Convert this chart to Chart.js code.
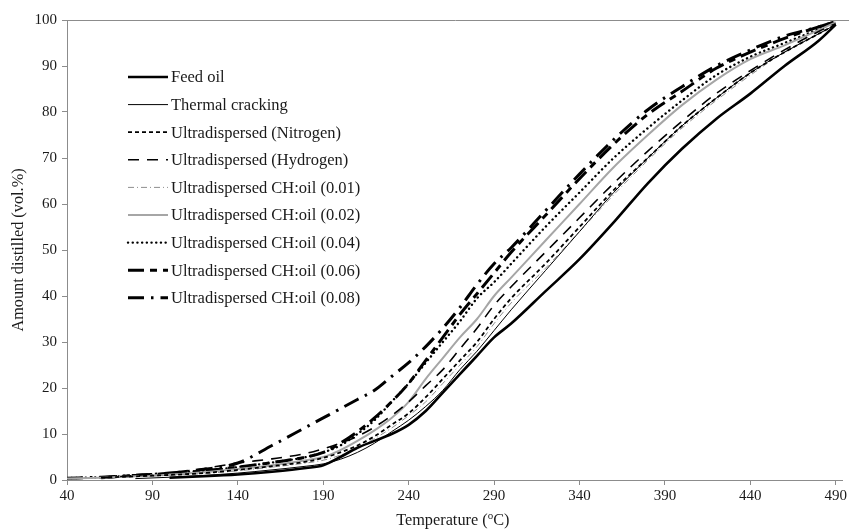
<!DOCTYPE html>
<html>
<head>
<meta charset="utf-8">
<title>Amount distilled vs temperature</title>
<script src="https://cdn.jsdelivr.net/npm/chart.js@4.4.1/dist/chart.umd.min.js"></script>
<style>
    html, body { margin: 0; padding: 0; background: #ffffff; }
    #wrap { width: 849px; height: 530px; position: relative; }
</style>
</head>
<body>
<div id="wrap"><canvas id="distChart" width="849" height="530"></canvas></div>
<script>
/* ===================================================
   Distillation curves — data
   =================================================== */

// --- Temperatures (°C) shared by every series ---
const temperatures = [40, 60, 80, 100, 120, 140, 160, 180, 190, 200, 210, 220, 230, 240, 250,
                      260, 270, 280, 290, 300, 320, 340, 360, 380, 400, 420, 440, 460, 480, 490];

// --- Amount distilled (vol.%) per sample, null where the curve has not started ---
const feedOil     = [null, null, null, 0.5, 0.8, 1.2, 1.8, 2.6, 3.2, 5.0, 7.0, 8.5, 10.0, 12.0, 15.0,
                     19.0, 23.0, 27.0, 31.0, 34.0, 41.0, 48.0, 56.0, 64.5, 72.0, 78.5, 84.0, 90.0, 95.5, 99.0];
const thermal     = [null, null, 0.3, 0.6, 1.0, 1.5, 2.2, 3.0, 3.5, 4.5, 6.0, 8.0, 10.5, 13.0, 16.0,
                     19.5, 24.0, 28.0, 32.5, 37.0, 45.5, 54.0, 62.5, 70.0, 77.0, 83.0, 88.5, 93.0, 97.0, 99.0];
const nitrogen    = [null, 0.5, 0.8, 1.1, 1.5, 2.2, 3.0, 4.0, 4.8, 6.0, 7.5, 9.5, 12.0, 14.5, 18.0,
                     22.0, 26.0, 30.0, 35.0, 39.5, 47.0, 55.0, 63.0, 70.0, 77.0, 83.0, 88.5, 93.0, 97.0, 99.0];
const hydrogen    = [null, 0.5, 1.0, 1.6, 2.5, 3.7, 4.6, 5.8, 6.8, 8.0, 9.5, 11.5, 14.0, 17.0, 20.5,
                     24.0, 28.5, 33.0, 38.0, 42.0, 49.5, 57.0, 64.5, 71.5, 78.0, 84.0, 89.0, 93.5, 97.5, 99.2];
const chOil001    = [null, 0.4, 0.7, 1.0, 1.4, 2.0, 2.8, 3.7, 4.3, 5.4, 7.0, 9.0, 11.3, 14.0, 17.0,
                     21.0, 25.0, 29.0, 34.0, 38.5, 46.0, 54.0, 62.0, 69.5, 76.5, 82.5, 88.0, 93.0, 97.0, 99.0];
const chOil002    = [0.3, 0.5, 0.8, 1.2, 1.7, 2.4, 3.2, 4.3, 5.0, 6.5, 8.5, 10.8, 13.5, 17.0, 22.0,
                     26.5, 31.0, 35.0, 40.0, 44.0, 52.0, 60.0, 68.0, 75.0, 81.5, 87.0, 91.5, 94.5, 97.8, 99.5];
const chOil004    = [0.4, 0.6, 1.0, 1.4, 2.0, 2.8, 3.8, 5.0, 6.0, 7.5, 10.0, 13.0, 17.0, 21.0, 25.5,
                     30.0, 34.5, 39.5, 43.0, 47.0, 55.0, 62.5, 70.0, 76.5, 82.5, 88.0, 92.0, 95.0, 98.0, 99.5];
const chOil006    = [null, 0.5, 1.0, 1.4, 2.0, 2.8, 3.8, 5.0, 6.0, 8.0, 10.5, 13.5, 17.0, 21.0, 26.0,
                     31.0, 36.0, 40.5, 45.0, 49.5, 57.5, 65.5, 73.0, 79.5, 84.5, 89.5, 93.0, 96.0, 98.5, 99.6];
const chOil008    = [0.4, 0.6, 1.0, 1.5, 2.3, 3.7, 7.5, 11.5, 13.5, 15.5, 17.5, 19.5, 22.5, 25.5, 29.0,
                     33.0, 37.5, 42.5, 47.0, 50.5, 58.5, 66.5, 74.0, 80.5, 85.5, 90.0, 93.5, 96.5, 98.5, 99.6];

// --- Labels ---
const seriesNames = [
    "Feed oil",
    "Thermal cracking",
    "Ultradispersed (Nitrogen)",
    "Ultradispersed (Hydrogen)",
    "Ultradispersed CH:oil (0.01)",
    "Ultradispersed CH:oil (0.02)",
    "Ultradispersed CH:oil (0.04)",
    "Ultradispersed CH:oil (0.06)",
    "Ultradispersed CH:oil (0.08)"
];
const xTickValues = [40, 90, 140, 190, 240, 290, 340, 390, 440, 490];
const yTickValues = [0, 10, 20, 30, 40, 50, 60, 70, 80, 90, 100];

// ===================================================
// 1. Build datasets
// ===================================================
const seriesValues = [feedOil, thermal, nitrogen, hydrogen, chOil001, chOil002, chOil004, chOil006, chOil008];

const seriesStyles = [
    { color: "#000000", width: 2.6, dash: [],              cap: "butt" },
    { color: "#000000", width: 1.0, dash: [],              cap: "butt" },
    { color: "#000000", width: 1.8, dash: [4, 3],          cap: "butt" },
    { color: "#000000", width: 1.6, dash: [11, 8],         cap: "butt" },
    { color: "#8f8f8f", width: 1.0, dash: [6, 3, 1, 3],    cap: "butt" },
    { color: "#a6a6a6", width: 2.0, dash: [],              cap: "butt" },
    { color: "#000000", width: 2.4, dash: [0.1, 4.6],      cap: "round" },
    { color: "#000000", width: 3.0, dash: [16, 6, 7, 6],   cap: "butt" },
    { color: "#000000", width: 3.0, dash: [16, 7, 2.5, 7], cap: "butt" }
];

function toPoints(values) {
    var pts = [];
    values.forEach(function (v, i) {
        if (v !== null) pts.push({ x: temperatures[i], y: v });
    });
    return pts;
}

const datasets = seriesNames.map(function (name, i) {
    var s = seriesStyles[i];
    return {
        label: name,
        data: toPoints(seriesValues[i]),
        borderColor: s.color,
        backgroundColor: s.color,
        borderWidth: s.width,
        borderDash: s.dash,
        borderCapStyle: s.cap,
        pointRadius: 0,
        fill: false,
        cubicInterpolationMode: "monotone"
    };
});

// ===================================================
// 2. Custom plugins (legend, top border, x title)
// ===================================================
const serifFont = "'Liberation Serif', 'Times New Roman', serif";

const insideLegend = {
    id: "insideLegend",
    afterDatasetsDraw: function (chart) {
        var ctx = chart.ctx;
        var rowY = 77;
        var rowGap = 27.6;
        ctx.save();
        ctx.font = "16.5px " + serifFont;
        ctx.textBaseline = "middle";
        ctx.fillStyle = "#1a1a1a";
        chart.data.datasets.forEach(function (ds, i) {
            var y = rowY + i * rowGap;
            ctx.beginPath();
            ctx.strokeStyle = ds.borderColor;
            ctx.lineWidth = ds.borderWidth;
            ctx.lineCap = ds.borderCapStyle;
            ctx.setLineDash(ds.borderDash);
            ctx.moveTo(128, y);
            ctx.lineTo(168, y);
            ctx.stroke();
            ctx.setLineDash([]);
            ctx.fillText(ds.label, 171, y + 1);
        });
        ctx.restore();
    }
};

const frameAndTitle = {
    id: "frameAndTitle",
    afterDraw: function (chart) {
        var ctx = chart.ctx;
        var area = chart.chartArea;
        ctx.save();
        // top border of the plot area
        ctx.strokeStyle = "#8c8c8c";
        ctx.lineWidth = 1;
        ctx.beginPath();
        ctx.moveTo(area.left - 5, area.top + 0.5);
        ctx.lineTo(chart.width, area.top + 0.5);
        ctx.stroke();

        // x-axis title with superscript "o"
        var big = "16.3px " + serifFont;
        var small = "11px " + serifFont;
        var partA = "Temperature (";
        var partB = "o";
        var partC = "C)";
        ctx.font = big;
        var wA = ctx.measureText(partA).width;
        var wC = ctx.measureText(partC).width;
        ctx.font = small;
        var wB = ctx.measureText(partB).width;
        var x = (area.left + area.right) / 2 - (wA + wB + wC) / 2 - 2;
        var y = 521;
        ctx.fillStyle = "#1a1a1a";
        ctx.textBaseline = "middle";
        ctx.font = big;
        ctx.fillText(partA, x, y);
        ctx.font = small;
        ctx.fillText(partB, x + wA, y - 5);
        ctx.font = big;
        ctx.fillText(partC, x + wA + wB, y);
        ctx.restore();
    }
};

// ===================================================
// 3. Chart
// ===================================================
const ctx = document.getElementById("distChart").getContext("2d");

new Chart(ctx, {
    type: "line",
    data: { datasets: datasets },
    options: {
        responsive: false,
        animation: false,
        layout: { padding: { top: 20, right: 0, bottom: 0, left: 0 } },
        plugins: {
            legend: { display: false },
            tooltip: { enabled: false }
        },
        scales: {
            x: {
                type: "linear",
                min: 40,
                max: 494,
                afterBuildTicks: function (scale) {
                    scale.ticks = xTickValues.map(function (v) { return { value: v }; });
                },
                afterFit: function (scale) { scale.height = 50; },
                border: { color: "#8c8c8c", width: 1 },
                grid: { drawOnChartArea: false, drawTicks: true, tickLength: 5, color: "#8c8c8c" },
                ticks: {
                    autoSkip: false,
                    maxRotation: 0,
                    padding: 2,
                    color: "#1a1a1a",
                    font: { family: serifFont, size: 15 }
                },
                title: { display: false }
            },
            y: {
                min: 0,
                max: 100,
                afterBuildTicks: function (scale) {
                    scale.ticks = yTickValues.map(function (v) { return { value: v }; });
                },
                afterFit: function (scale) { scale.width = 67; },
                border: { color: "#8c8c8c", width: 1 },
                grid: { drawOnChartArea: false, drawTicks: true, tickLength: 5, color: "#8c8c8c" },
                ticks: {
                    padding: 5,
                    color: "#1a1a1a",
                    font: { family: serifFont, size: 15 }
                },
                title: {
                    display: true,
                    text: "Amount distilled (vol.%)",
                    color: "#1a1a1a",
                    padding: { top: 9, bottom: 0 },
                    font: { family: serifFont, size: 16.3 }
                }
            }
        }
    },
    plugins: [insideLegend, frameAndTitle]
});
</script>
</body>
</html>
